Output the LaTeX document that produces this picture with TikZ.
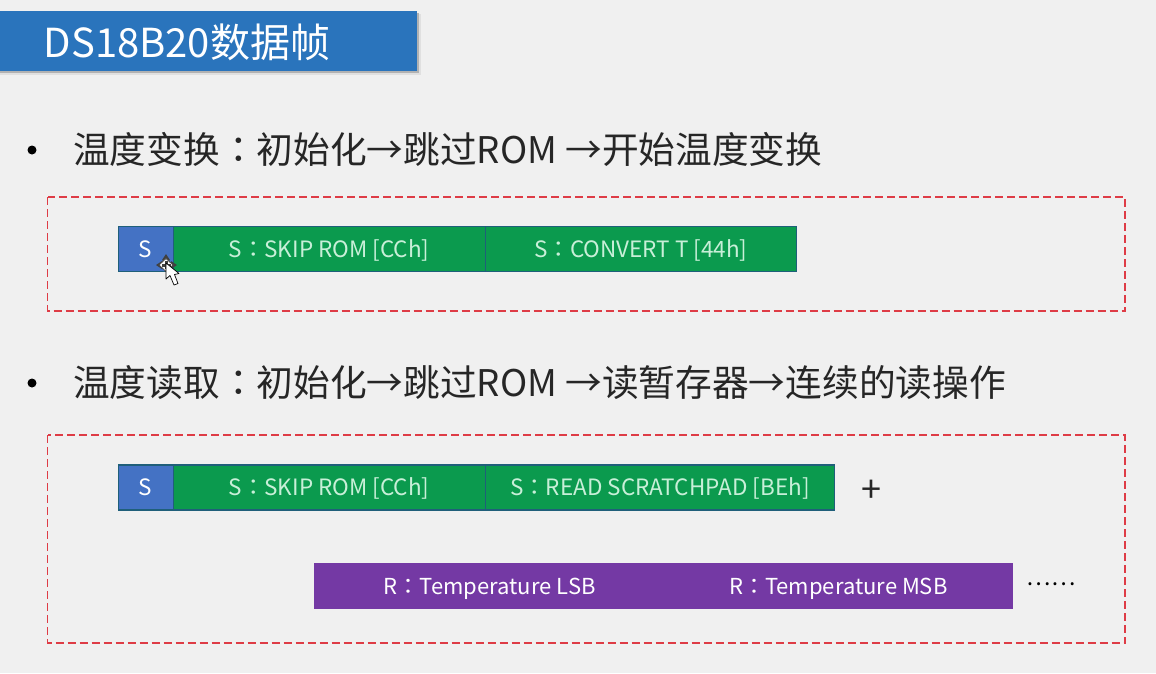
\documentclass[tikz,border=0pt]{standalone}
\usepackage{fontspec}
\setmainfont{Noto Sans CJK SC}[Scale=1]
\newfontfamily\cjktc{Noto Sans CJK TC}
\newcommand{\cln}{{\cjktc ：}}
\definecolor{bgc}{HTML}{F0F0F0}
\definecolor{titleb}{HTML}{2A74BC}
\definecolor{sblue}{HTML}{4472C4}
\definecolor{sgreen}{HTML}{0B9A4E}
\definecolor{spurple}{HTML}{7439A4}
\definecolor{edgeb}{HTML}{1F5F7A}
\definecolor{dashred}{RGB}{222,60,70}
\definecolor{txt}{HTML}{262626}
\definecolor{lgreen}{HTML}{C8EFD8}
\tikzset{
 x=1pt,y=-1pt,
 dashbox/.style={color=dashred,draw=dashred,line width=1.4pt,dash pattern=on 8pt off 4pt},
 seg/.style={draw=edgeb,line width=1.2pt,minimum height=45pt,inner sep=0pt,anchor=west,text=white,text height=20pt,text depth=4pt,font=\fontsize{22.5}{26}\selectfont},
 sblk/.style={seg,fill=sblue},
 gblk/.style={seg,fill=sgreen,text=lgreen},
 pblk/.style={seg,fill=spurple,draw=spurple,font=\fontsize{22}{26}\selectfont},
 heading/.style={anchor=west,text=txt,inner sep=0pt,font=\fontsize{36.7}{40}\selectfont},
 bul/.style={circle,fill=black,inner sep=0pt,minimum size=9pt},
}
\begin{document}
\begin{tikzpicture}
\useasboundingbox (0,0) rectangle (1156,673);
\fill[bgc] (0,0) rectangle (1156,673);
\fill[black!12] (0,14) rectangle (421,75);
\fill[black!30] (0,13) rectangle (419,73);
\node[fill=titleb,minimum width=417pt,minimum height=60pt,inner sep=0pt,anchor=north west] (title) at (0,11) {};
\node[anchor=west,text=white,inner sep=0pt,font=\fontsize{40}{44}\selectfont] (ttext) at (43.5,42) {DS18B20数据帧};
\node[bul] (b1) at (32,150) {};
\node[heading] (h1) at (73,149.5) {温度变换\cln 初始化→跳过ROM →开始温度变换};
\draw[dashbox] (47.5,197) coordinate (f1a) rectangle (1125,311) coordinate (f1b);
\node[sblk,minimum width=55pt] (a1) at (117.5,249) {S};
\node[gblk,minimum width=312pt] (a2) at (172.5,249) {S\cln SKIP ROM [CCh]};
\node[gblk,minimum width=311.5pt] (a3) at (484.5,249) {S\cln CONVERT T [44h]};
\node[bul] (b2) at (32,383) {};
\node[heading] (h2) at (73,383) {温度读取\cln 初始化→跳过ROM →读暂存器→连续的读操作};
\draw[dashbox] (47.5,435) coordinate (f2a) rectangle (1125,643) coordinate (f2b);
\node[sblk,minimum width=55pt] (c1) at (117.5,487.5) {S};
\node[gblk,minimum width=312pt] (c2) at (172.5,487.5) {S\cln SKIP ROM [CCh]};
\node[gblk,minimum width=349.5pt] (c3) at (484.5,487.5) {S\cln READ SCRATCHPAD [BEh]};
\node[text=txt,inner sep=0pt,font=\fontsize{36}{38}\selectfont] (plus) at (871,491) {+};
\node[pblk,minimum width=350pt] (d1) at (314,586) {R\cln Temperature LSB};
\node[pblk,minimum width=348.5pt] (d2) at (663.5,586) {R\cln Temperature MSB};
\node[text=black,inner sep=0pt,font=\fontsize{23}{26}\selectfont] (dots) at (1051,584) {……};
% mouse cursor
\fill[black!75] (166,254) -- (170,260) -- (167,262) -- (165,262) -- (162,260) -- cycle;
\fill[black!75] (156,265) -- (162,261) -- (162,269) -- cycle;
\fill[black!75] (177,265) -- (171,261) -- (171,269) -- cycle;
\draw[black!70,fill=white,line width=.8pt] (166,258.5) -- (173,265) -- (166,271.5) -- (159,265) -- cycle;
\fill[black!75] (164.5,261) rectangle (168,269);
\fill[black!75] (162,263.5) rectangle (171,266.5);
\draw[black,fill=white,line width=.7pt,line join=round] (166,263) -- (166,279) -- (170,275.5) -- (174,285) -- (178,283.5) -- (174.5,274.5) -- (179,273.5) -- cycle;
\end{tikzpicture}
\end{document}
